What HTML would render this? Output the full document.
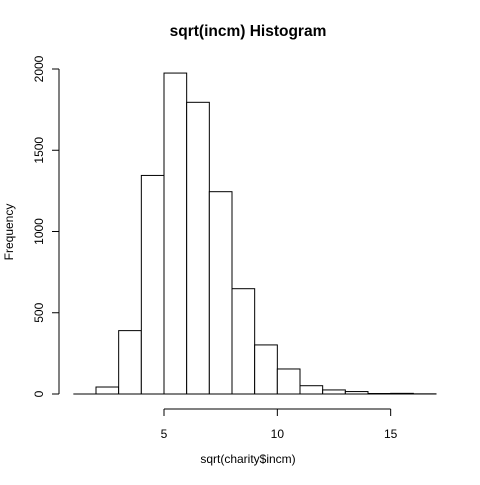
<!DOCTYPE html>
<html><head><meta charset="utf-8"><style>body{margin:0;background:#fff}svg text{font-family:"Liberation Sans",Arial,sans-serif}</style></head>
<body>
<svg id="c" width="480" height="480" xmlns="http://www.w3.org/2000/svg">
<text x="248" y="36" text-anchor="middle" font-size="15.5" font-weight="bold">sqrt(incm) Histogram</text>
<text x="248" y="463" text-anchor="middle" font-size="12">sqrt(charity$incm)</text>
<text transform="translate(13,232) rotate(-90)" text-anchor="middle" font-size="12">Frequency</text>
<g id="bars"></g><g id="axes"></g>
</svg>
<script>
const breaks=[1,2,3,4,5,6,7,8,9,10,11,12,13,14,15,16,17];
const counts=[0,43,390,1345,1975,1795,1245,648,302,154,51,25,15,3,4,1];
const xTicks=[5,10,15];
const yTicks=[0,500,1000,1500,2000];
const NS="http://www.w3.org/2000/svg";
const sx=v=>164+(v-5)*22.667;
const sy=v=>394-v*0.1625;
function mk(t,a,p){const e=document.createElementNS(NS,t);for(const k in a)e.setAttribute(k,a[k]);p.appendChild(e);return e;}
const bars=document.getElementById('bars'),axes=document.getElementById('axes');
const base=mk('line',{x1:sx(breaks[0]),x2:sx(breaks[breaks.length-1]),y1:sy(0),y2:sy(0),stroke:'#000'},bars);


counts.forEach((c,i)=>{
 const r=mk('rect',{x:sx(breaks[i]),y:sy(c),width:sx(breaks[i+1])-sx(breaks[i]),height:sy(0)-sy(c),fill:'#fff',stroke:'#000','stroke-width':1},bars);
 
 
});
const xl=mk('line',{x1:sx(xTicks[0]),x2:sx(xTicks[xTicks.length-1]),y1:409,y2:409,stroke:'#000'},axes);


xTicks.forEach(t=>{
 mk('line',{x1:sx(t),x2:sx(t),y1:409,y2:416,stroke:'#000'},axes);
 const tx=mk('text',{x:sx(t),y:438,'text-anchor':'middle','font-size':12},axes);tx.textContent=t;
 
 
});
const yl=mk('line',{x1:59,x2:59,y1:sy(yTicks[0]),y2:sy(yTicks[yTicks.length-1]),stroke:'#000'},axes);


yTicks.forEach(t=>{
 mk('line',{x1:52,x2:59,y1:sy(t),y2:sy(t),stroke:'#000'},axes);
 const tx=mk('text',{transform:`translate(43,${sy(t)}) rotate(-90)`,'text-anchor':'middle','font-size':12},axes);tx.textContent=t;
 
 
});
</script>
</body></html>
